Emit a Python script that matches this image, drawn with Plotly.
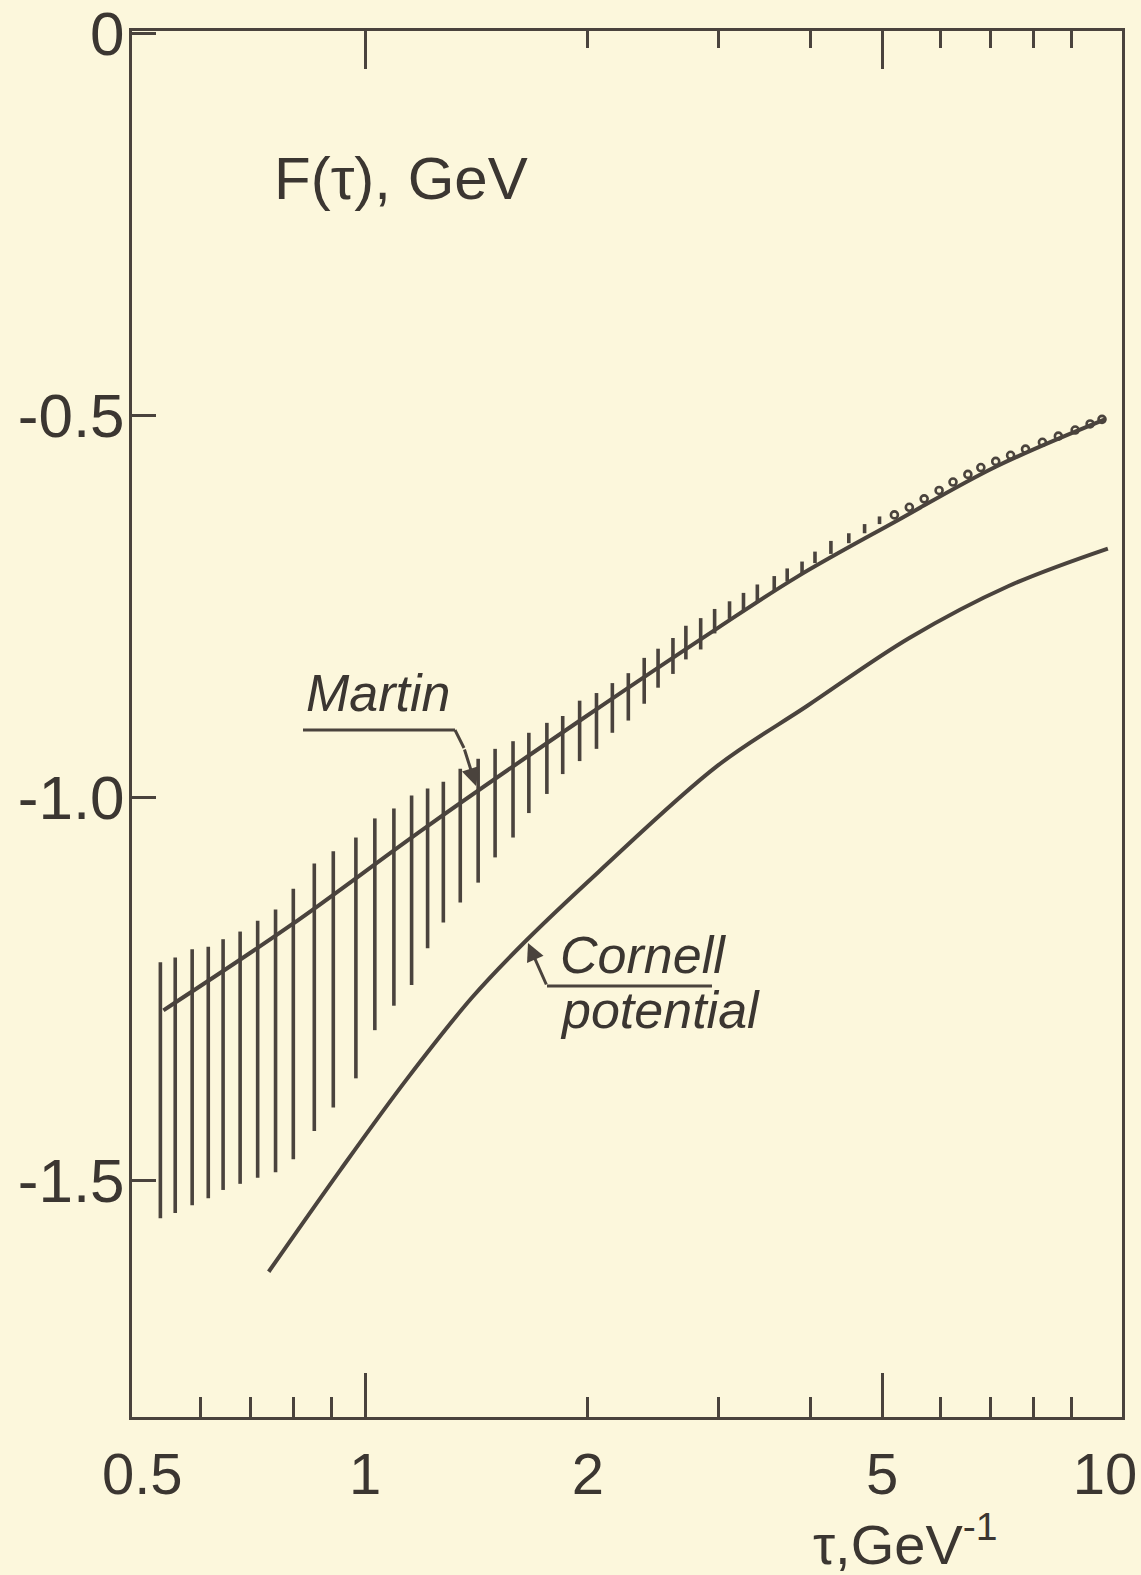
import plotly.graph_objects as go

# ---------------- data ----------------
# Martin potential curve
tau_martin = [0.534, 0.793, 1.211, 1.986, 2.996, 3.836, 5.226, 7.118, 10.0]
F_martin = [-1.278, -1.167, -1.038, -0.894, -0.778, -0.711, -0.638, -0.567, -0.505]

# Cornell potential curve
tau_cornell = [0.741, 0.926, 1.139, 1.396, 1.650, 2.068, 2.996, 3.957, 5.440, 7.410, 10.09]
F_cornell = [-1.620, -1.487, -1.368, -1.261, -1.187, -1.097, -0.958, -0.880, -0.791, -0.723, -0.674]

# uncertainty band (vertical hatch lines): position, upper end, lower end
tau_hatch = [0.529, 0.554, 0.584, 0.614, 0.643, 0.678, 0.716, 0.757, 0.800, 0.854,
             0.906, 0.972, 1.031, 1.094, 1.156, 1.215, 1.276, 1.345, 1.422, 1.499,
             1.585, 1.665, 1.761, 1.850, 1.950, 2.055, 2.159, 2.269, 2.384, 2.489,
             2.607, 2.714, 2.842, 2.968, 3.109, 3.247, 3.390, 3.573, 3.720, 3.896,
             4.056, 4.262, 4.506, 4.733, 4.958]
F_hatch_top = [-1.215, -1.209, -1.198, -1.195, -1.185, -1.175, -1.161, -1.146, -1.119, -1.086,
               -1.070, -1.052, -1.027, -1.014, -0.997, -0.988, -0.979, -0.962, -0.949, -0.936,
               -0.926, -0.915, -0.902, -0.893, -0.873, -0.863, -0.850, -0.837, -0.817, -0.805,
               -0.791, -0.775, -0.765, -0.753, -0.743, -0.732, -0.721, -0.710, -0.700, -0.691,
               -0.678, -0.664, -0.654, -0.642, -0.632]
F_hatch_bot = [-1.550, -1.543, -1.533, -1.524, -1.513, -1.505, -1.497, -1.490, -1.473, -1.436,
               -1.405, -1.367, -1.304, -1.272, -1.245, -1.197, -1.163, -1.137, -1.111, -1.078,
               -1.052, -1.020, -0.995, -0.969, -0.952, -0.936, -0.915, -0.899, -0.877, -0.856,
               -0.838, -0.819, -0.806, -0.785, -0.766, -0.756, -0.745, -0.730, -0.717, -0.708,
               -0.693, -0.681, -0.667, -0.654, -0.642]

# tiny loops of the band at large tau
tau_loops = [5.193, 5.440, 5.697, 5.968, 6.232, 6.527, 6.796, 7.118, 7.455, 7.809,
             8.231, 8.650, 9.114, 9.548, 9.908]
F_loops = [-0.630, -0.620, -0.609, -0.598, -0.587, -0.577, -0.568, -0.560, -0.552, -0.544,
           -0.535, -0.527, -0.519, -0.511, -0.505]

# axis ticks
x_label_vals = [0.5, 1, 2, 5, 10]
x_label_text = ["0.5", "1", "2", "5", "10"]
x_major_bottom = [1, 5]
x_minor_bottom = [0.6, 0.7, 0.8, 0.9, 2, 3, 4, 6, 7, 8, 9]
x_major_top = [1, 5]
x_minor_top = [2, 3, 4, 6, 7, 8, 9]
y_tick_vals = [0, -0.5, -1.0, -1.5]
y_tick_text = ["0", "-0.5", "-1.0", "-1.5"]

# ---------------- styling ----------------
BG = "#fcf7dc"
INK = "#4a433d"
TXT = "#3b3631"
W, H = 1141, 1575
ML, MR, MT, MB = 132, 19, 31, 158
PW, PH = W - ML - MR, H - MT - MB


def px(xp):
    return (xp - ML) / PW


def py(yp):
    return (H - MB - yp) / PH


fig = go.Figure()

# hatch lines built from the band arrays
hx, hy = [], []
for t, a, b in zip(tau_hatch, F_hatch_top, F_hatch_bot):
    hx += [t, t, None]
    hy += [b, a, None]
fig.add_trace(go.Scatter(x=hx, y=hy, mode="lines", line=dict(color=INK, width=3.6),
                         hoverinfo="skip", showlegend=False))

fig.add_trace(go.Scatter(x=tau_loops, y=F_loops, mode="markers",
                         marker=dict(symbol="circle-open", size=7, color=INK, line=dict(width=2.6)),
                         hoverinfo="skip", showlegend=False))

fig.add_trace(go.Scatter(x=tau_martin, y=F_martin, mode="lines", name="Martin",
                         line=dict(color=INK, width=4, shape="spline", smoothing=1.0),
                         showlegend=False))
fig.add_trace(go.Scatter(x=tau_cornell, y=F_cornell, mode="lines", name="Cornell potential",
                         line=dict(color=INK, width=4, shape="spline", smoothing=1.0),
                         showlegend=False))

# dummy traces so the overlaid tick axes are drawn
fig.add_trace(go.Scatter(x=[1, 10], y=[None, None], xaxis="x2", showlegend=False, hoverinfo="skip"))
fig.add_trace(go.Scatter(x=[1, 10], y=[None, None], xaxis="x3", showlegend=False, hoverinfo="skip"))

xr = [-0.3149, 1.0230]
xnum_font = dict(family="Liberation Sans, Arial", size=58, color=TXT)
ynum_font = dict(family="Liberation Sans, Arial", size=62, color=TXT)

fig.update_layout(
    width=W, height=H,
    margin=dict(l=ML, r=MR, t=MT, b=MB, autoexpand=False),
    paper_bgcolor=BG, plot_bgcolor=BG,
    xaxis=dict(type="log", range=xr, showline=True, linecolor=INK, linewidth=3, mirror=True,
               ticks="", tickmode="array", tickvals=x_label_vals, ticktext=x_label_text,
               tickfont=xnum_font, ticklabelstandoff=4, ticklabeloverflow="allow",
               automargin=False, showgrid=False, zeroline=False),
    xaxis2=dict(type="log", range=xr, overlaying="x", anchor="y", side="bottom",
                showline=False, showgrid=False, zeroline=False, showticklabels=False,
                automargin=False,
                ticks="inside", tickmode="array", tickvals=x_major_bottom, ticklen=44,
                tickwidth=3, tickcolor=INK,
                minor=dict(ticks="inside", tickmode="array", tickvals=x_minor_bottom,
                           ticklen=20, tickwidth=3, tickcolor=INK, showgrid=False)),
    xaxis3=dict(type="log", range=xr, overlaying="x", anchor="y", side="top",
                showline=False, showgrid=False, zeroline=False, showticklabels=False,
                automargin=False,
                ticks="inside", tickmode="array", tickvals=x_major_top, ticklen=38,
                tickwidth=3, tickcolor=INK,
                minor=dict(ticks="inside", tickmode="array", tickvals=x_minor_top,
                           ticklen=17, tickwidth=3, tickcolor=INK, showgrid=False)),
    yaxis=dict(range=[-1.81, 0.003], showline=True, linecolor=INK, linewidth=3, mirror=True,
               ticks="inside", ticklen=24, tickwidth=3, tickcolor=INK,
               tickmode="array", tickvals=y_tick_vals, ticktext=y_tick_text,
               tickfont=ynum_font, ticklabelstandoff=-8, ticklabeloverflow="allow",
               automargin=False, showgrid=False, zeroline=False),
)

# titles
fig.add_annotation(text="F(τ), GeV", xref="paper", yref="paper", x=px(272), y=py(178),
                   xanchor="left", yanchor="middle", showarrow=False,
                   font=dict(family="Liberation Sans, Arial", size=60, color=TXT))
fig.add_annotation(text="τ,GeV<sup>-1</sup>", xref="paper", yref="paper", x=px(905), y=py(1540),
                   xanchor="center", yanchor="middle", showarrow=False,
                   font=dict(family="Liberation Sans, Arial", size=56, color=TXT))

# curve labels
lab_font = dict(family="Liberation Sans, Arial", size=52, color=TXT)
fig.add_annotation(text="<i>Martin</i>", xref="paper", yref="paper", x=px(304), y=py(693),
                   xanchor="left", yanchor="middle", showarrow=False, font=lab_font)
fig.add_annotation(text="<i>Cornell</i>", xref="paper", yref="paper", x=px(558), y=py(955),
                   xanchor="left", yanchor="middle", showarrow=False, font=lab_font)
fig.add_annotation(text="<i>potential</i>", xref="paper", yref="paper", x=px(558), y=py(1010),
                   xanchor="left", yanchor="middle", showarrow=False, font=lab_font)

# leader lines
lw = dict(color=INK, width=3)
fig.add_shape(type="line", xref="paper", yref="paper", x0=px(303), y0=py(730), x1=px(455), y1=py(730), line=lw)
fig.add_shape(type="line", xref="paper", yref="paper", x0=px(455), y0=py(730), x1=px(464), y1=py(748), line=lw)
fig.add_annotation(xref="paper", yref="paper", x=px(476), y=py(786), ax=-12, ay=-38,
                   axref="pixel", ayref="pixel", text="", showarrow=True,
                   arrowhead=2, arrowsize=1.2, arrowwidth=3, arrowcolor=INK)
fig.add_shape(type="line", xref="paper", yref="paper", x0=px(547), y0=py(986), x1=px(712), y1=py(986), line=lw)
fig.add_annotation(xref="paper", yref="paper", x=px(528), y=py(943), ax=19, ay=43,
                   axref="pixel", ayref="pixel", text="", showarrow=True,
                   arrowhead=2, arrowsize=1.2, arrowwidth=3, arrowcolor=INK)

fig.write_html("out.html", config={"displayModeBar": False},
               post_script="document.body.style.margin='0';"
                           "document.body.style.background='#fcf7dc';")
